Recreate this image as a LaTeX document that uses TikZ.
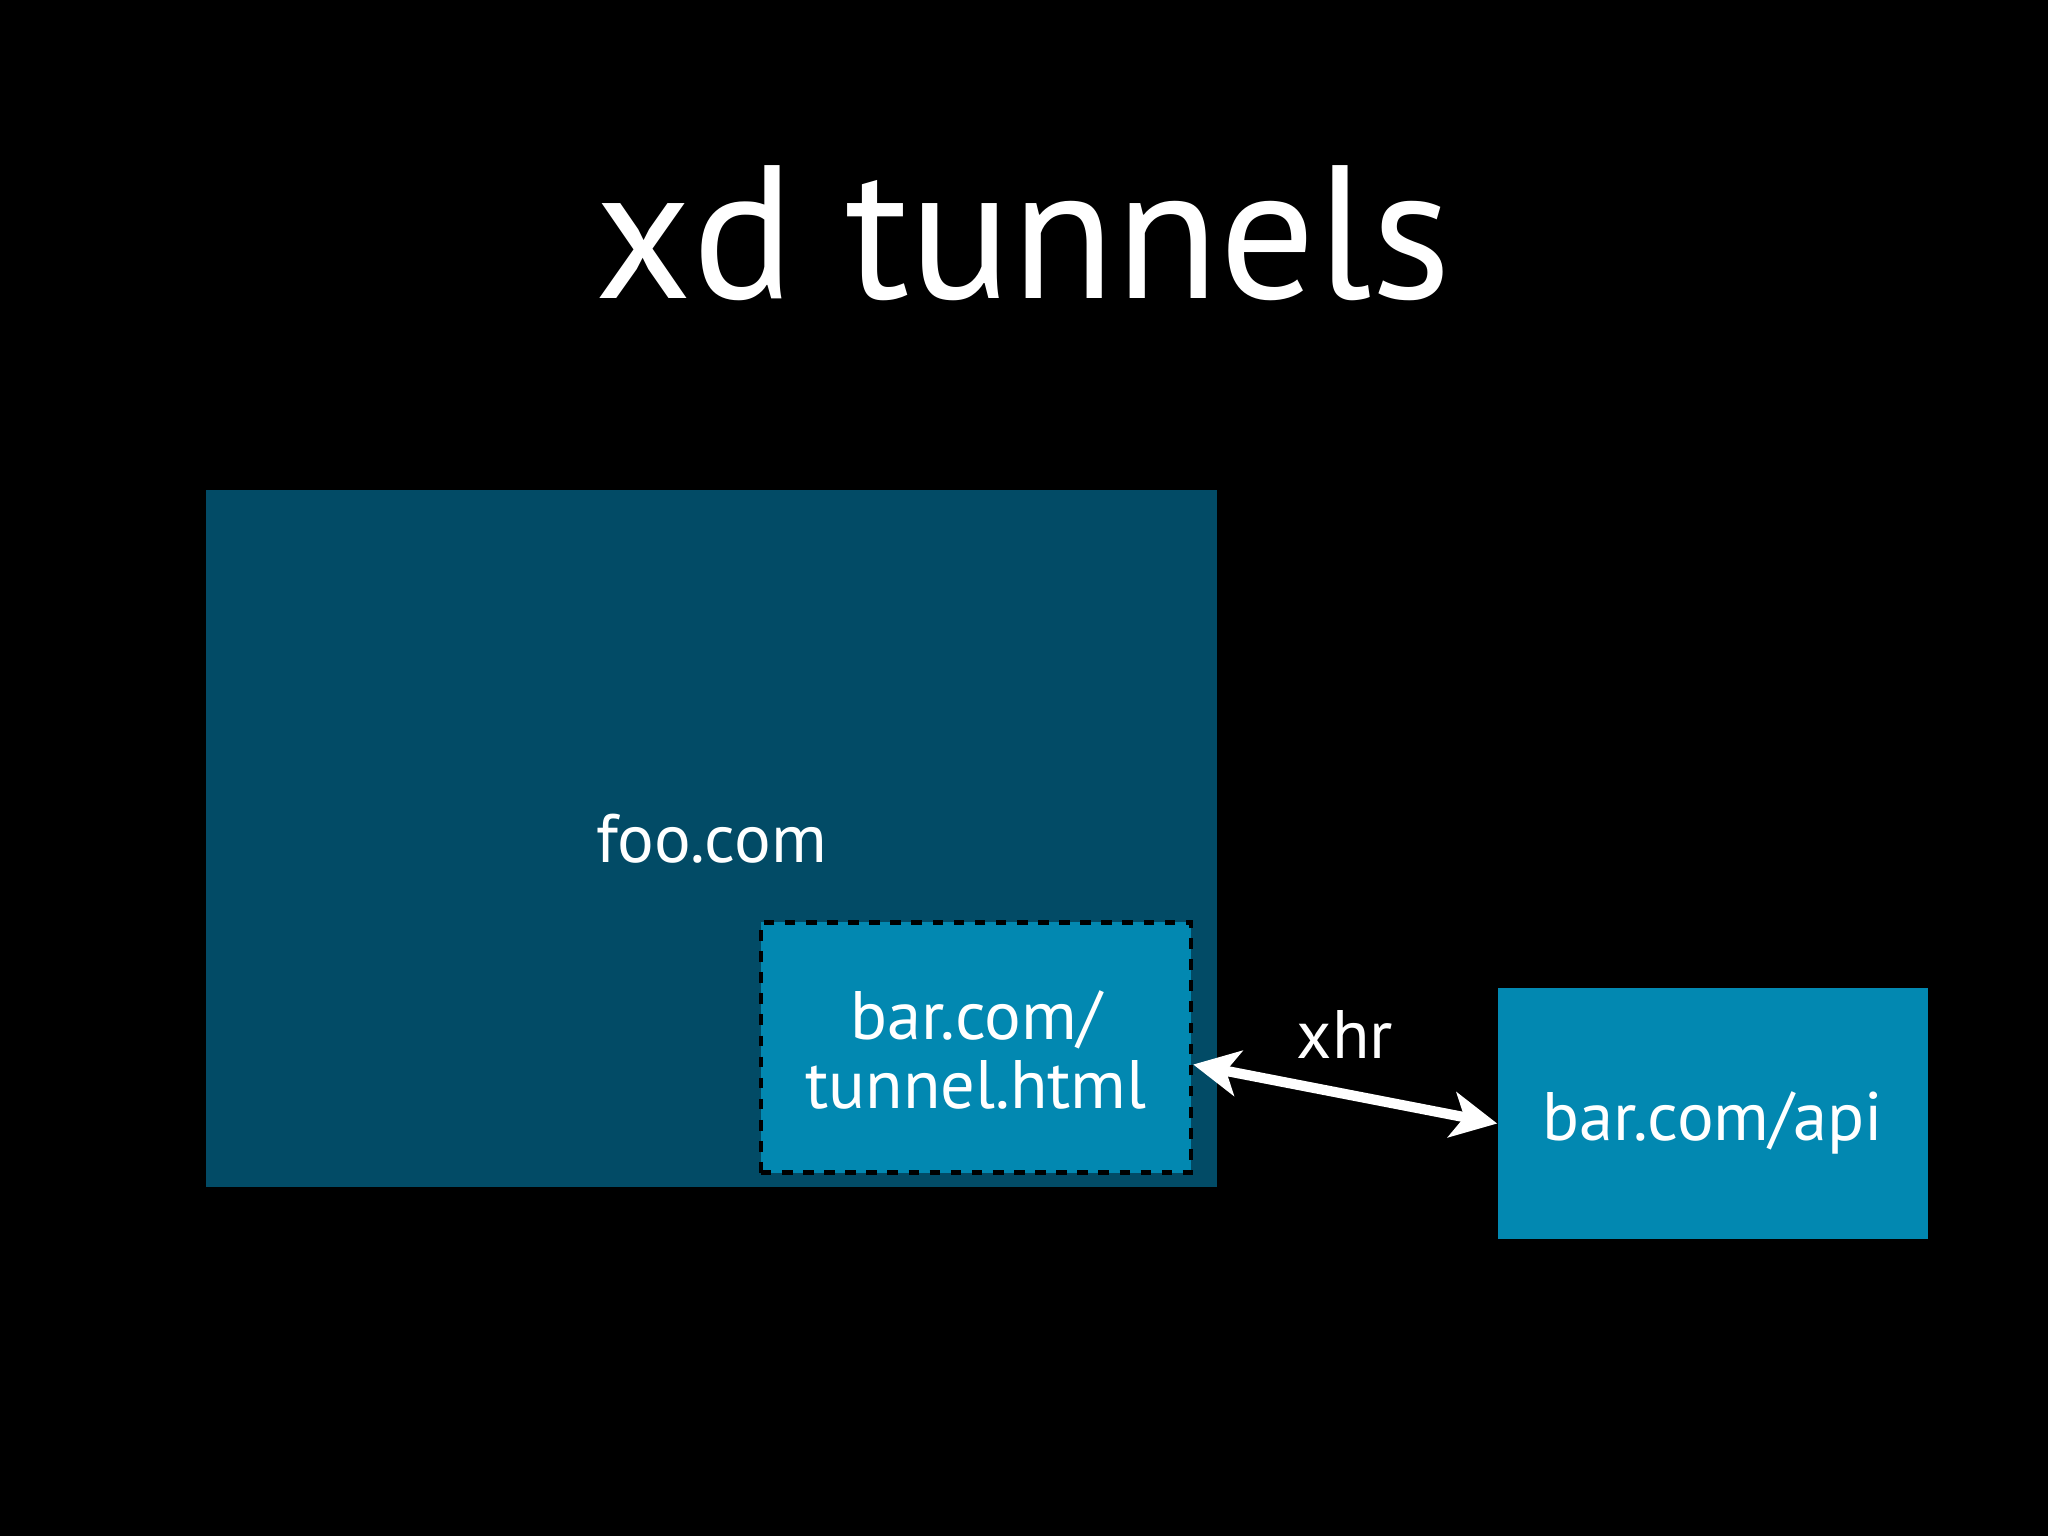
\documentclass[tikz,border=0pt]{standalone}
\usepackage{fontspec}
\setmainfont{PT Sans}
\usetikzlibrary{arrows.meta}
\definecolor{outerblue}{HTML}{024B66}
\definecolor{innerblue}{HTML}{0288B1}

\begin{document}
\begin{tikzpicture}[x=0.01cm,y=-0.01cm,
    sitebox/.style={fill=outerblue,inner sep=0pt,minimum width=10.11cm,minimum height=6.97cm},
    framebox/.style={fill=innerblue,inner sep=0pt,minimum width=4.30cm,minimum height=2.50cm},
    lbl/.style={text=white,font=\fontsize{19.5}{19.6}\selectfont,align=center}]
	\fill[black] (0,0) rectangle (2048,1536);
	\useasboundingbox (0,0) rectangle (2048,1536);
	\node (title) [anchor=base,text=white,font=\fontsize{54}{60}\selectfont] at (1023,298) {xd tunnels};
	\node (foo) [sitebox,lbl] at (711.5,838.5) {foo.com};
	\node (tunnel) [framebox,lbl,draw=black,dashed,line width=1.2pt] at (976,1047.5)
		{\raisebox{-3.4pt}[\height][\depth]{\begin{tabular}{@{}c@{}}bar.com/\\tunnel.html\end{tabular}}};
	\node (api) [framebox,lbl] at (1713,1113.5) {\raisebox{-2.6pt}[\height][\depth]{bar.com/api}};
	\node (xhr) [lbl] at (1345,1034) {xhr};
	\draw [white,line width=2.9pt,{Stealth[length=13pt,width=13pt,inset=3.5pt]}-{Stealth[length=13pt,width=13pt,inset=3.5pt]}] ([yshift=-0.17cm]tunnel.east) -- ([yshift=-0.1cm]api.west);
\end{tikzpicture}
\end{document}
